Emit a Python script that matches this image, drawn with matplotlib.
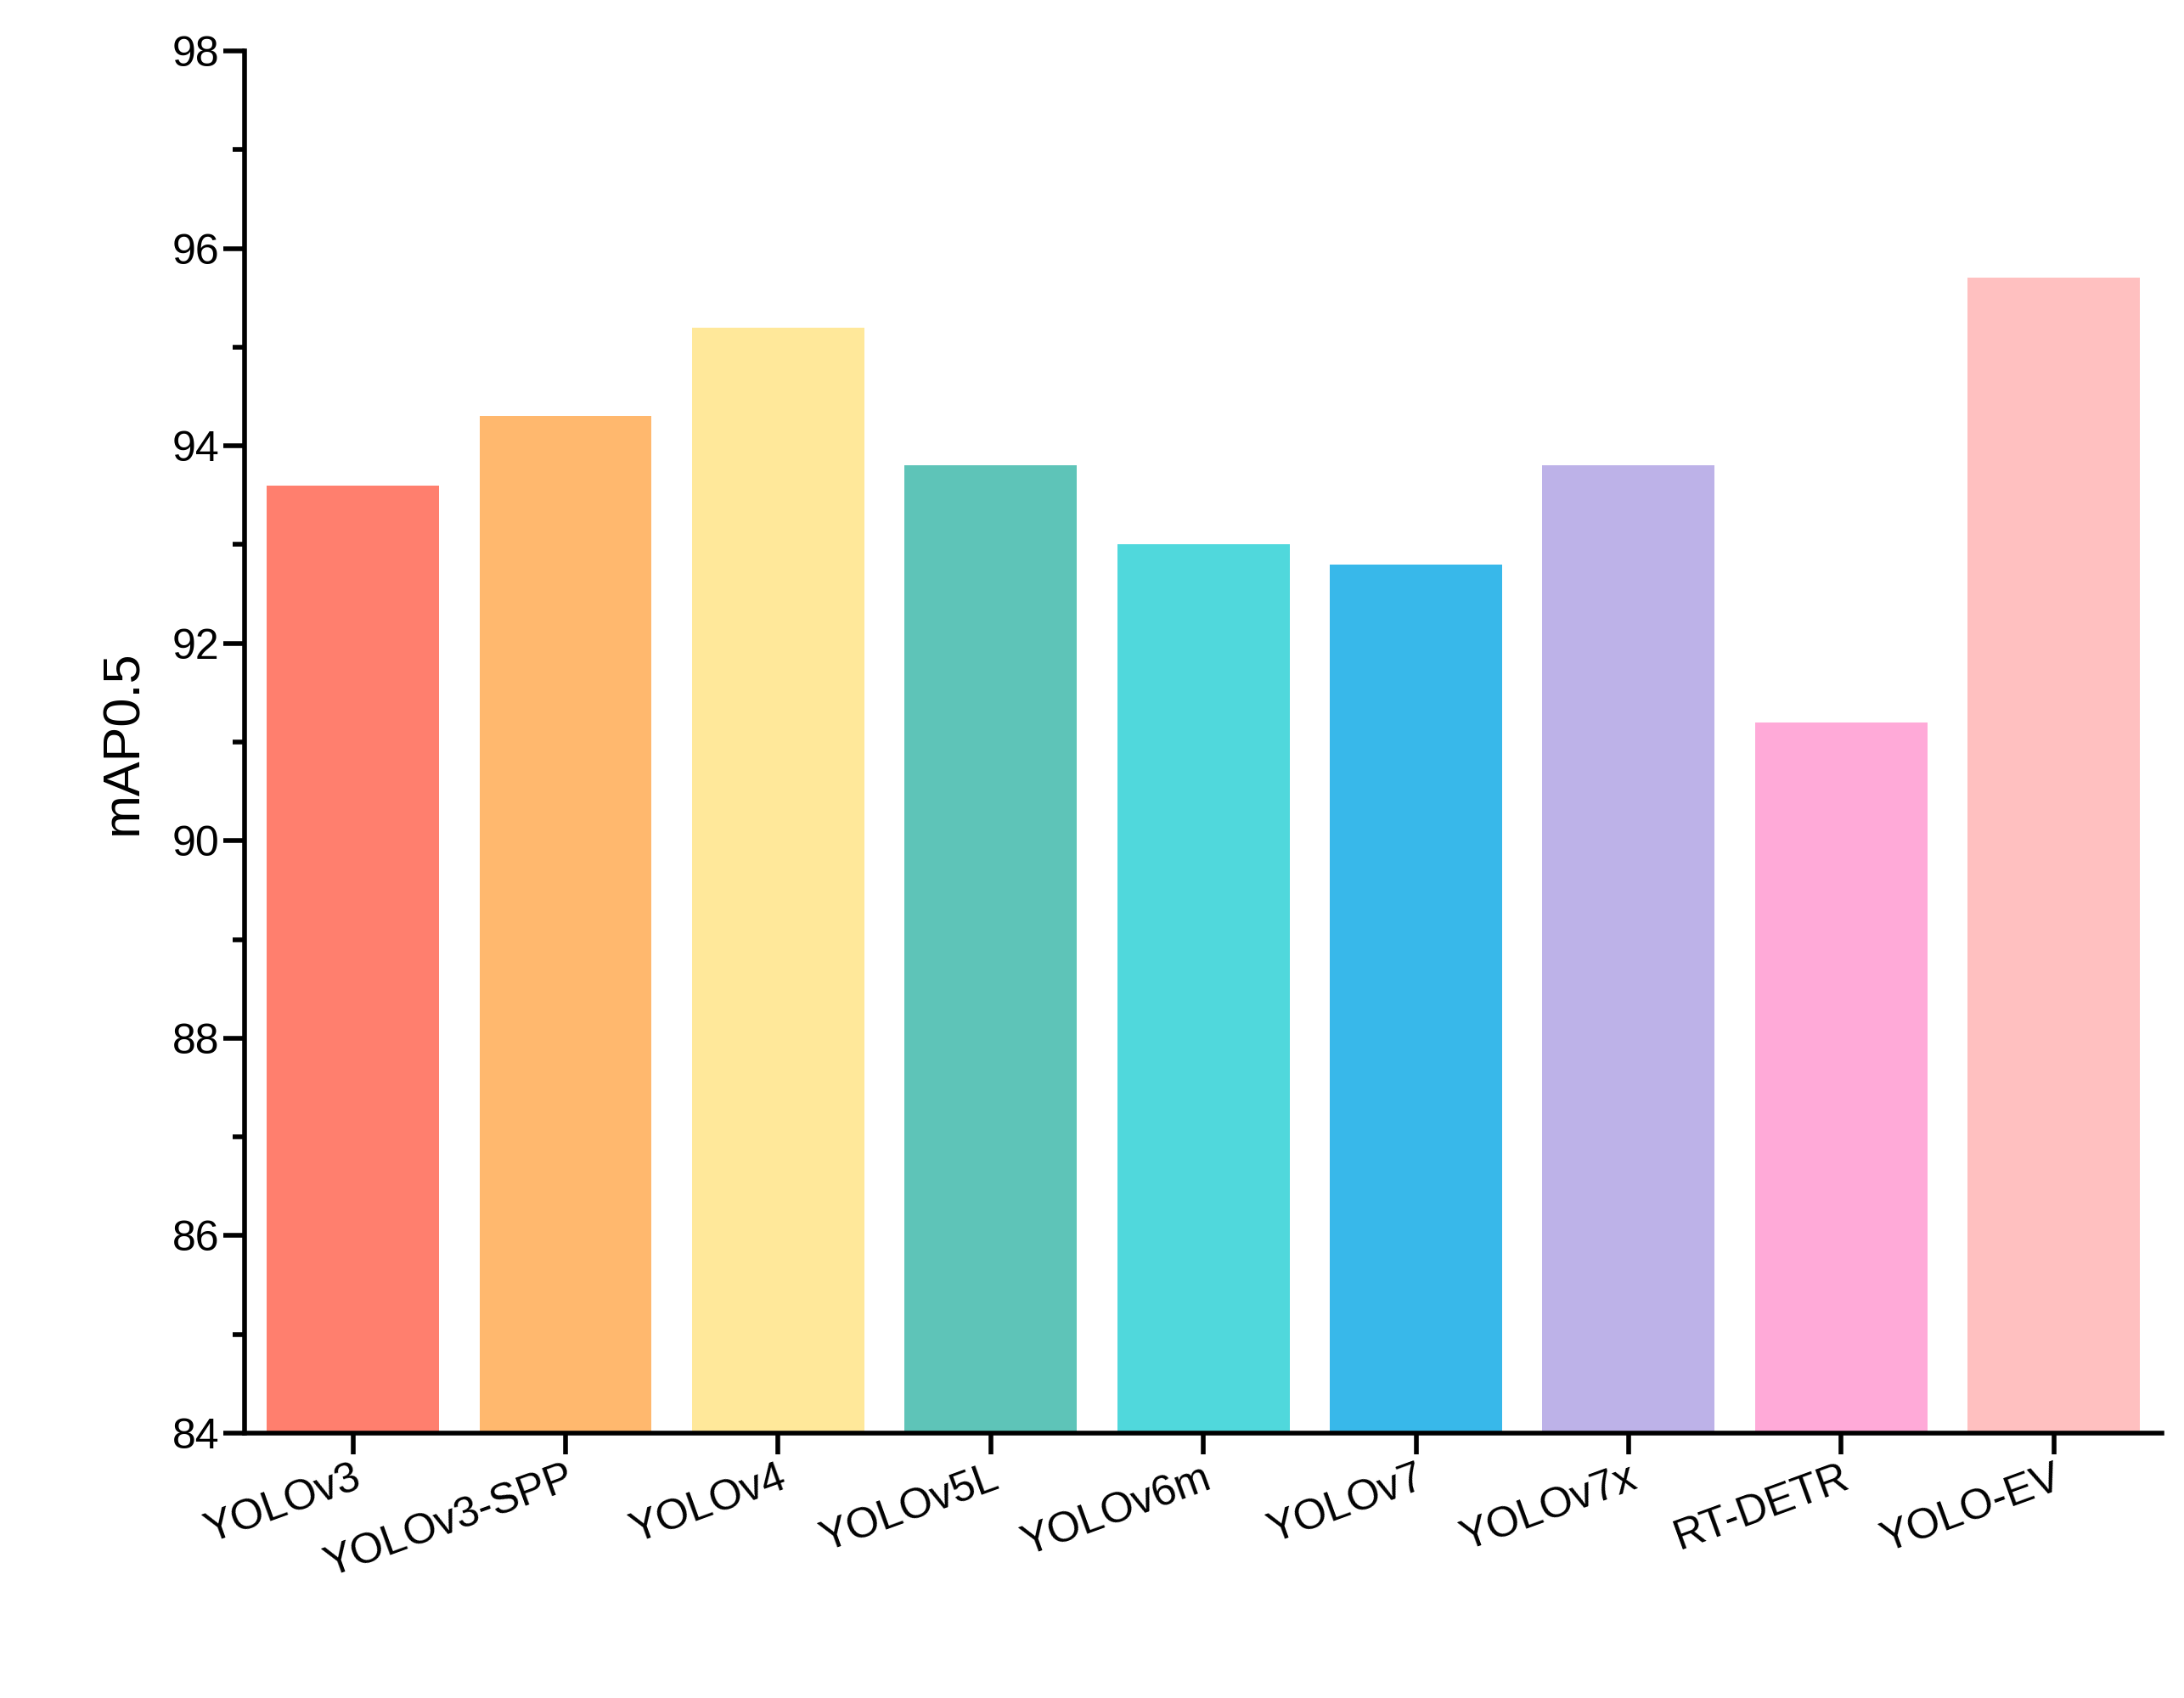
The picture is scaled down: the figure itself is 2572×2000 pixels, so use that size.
import matplotlib.pyplot as plt
from matplotlib.ticker import MultipleLocator

plt.rcParams['font.family'] = ['Liberation Sans', 'DejaVu Sans']

models = ["YOLOv3", "YOLOv3-SPP", "YOLOv4", "YOLOv5L", "YOLOv6m",
          "YOLOv7", "YOLOv7x", "RT-DETR", "YOLO-EV"]
map50 = [93.6, 94.3, 95.2, 93.8, 93.0, 92.8, 93.8, 91.2, 95.7]
colors = ["#FF7F6E", "#FFB86E", "#FFE89A", "#5EC4B8", "#50D8DC",
          "#38B8EA", "#BDB2E8", "#FFAAD8", "#FFC0C0"]

fig = plt.figure(figsize=(25.72, 20), dpi=100)
ax = fig.add_axes([0.112, 0.156, 0.878, 0.814])
ax.bar(range(len(models)), map50, width=0.81, color=colors, bottom=0)
ax.set_ylim(84, 98)
ax.set_xlim(-0.51, 8.51)
ax.yaxis.set_major_locator(MultipleLocator(2))
ax.yaxis.set_minor_locator(MultipleLocator(1))
ax.set_xticks(range(len(models)))
ax.set_xticklabels(models, rotation=20, ha='right', rotation_mode='anchor')
for s in ['top', 'right']:
    ax.spines[s].set_visible(False)
for s in ['left', 'bottom']:
    ax.spines[s].set_linewidth(4)
ax.tick_params(which='major', direction='out', length=18, width=4, labelsize=36)
ax.tick_params(which='minor', direction='out', length=10, width=4)
ax.set_ylabel("mAP0.5", fontsize=44, labelpad=20)
fig.savefig("out.png")
